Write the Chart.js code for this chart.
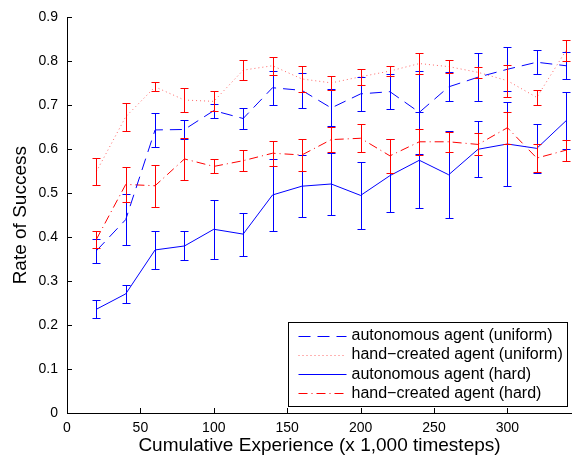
<!DOCTYPE html>
<html>
<head>
<meta charset="utf-8">
<script src="https://cdn.jsdelivr.net/npm/chart.js@4/dist/chart.umd.min.js"></script>
<style>
  html, body { margin: 0; padding: 0; background: #fff; }
  #wrap { width: 572px; height: 459px; }
</style>
</head>
<body>
<div id="wrap"><canvas id="successChart" width="572" height="459"></canvas></div>
<script>
// experience steps (x 1,000)
let steps = [20, 40, 60, 80, 100, 120, 140, 160, 180, 200, 220, 240, 260, 280, 300, 320, 340];

let autoUniform    = [0.369, 0.440, 0.644, 0.645, 0.688, 0.670, 0.740, 0.734, 0.694, 0.726, 0.731, 0.684, 0.742, 0.764, 0.782, 0.798, 0.790];
let autoUniformErr = [0.027, 0.058, 0.038, 0.022, 0.016, 0.024, 0.039, 0.040, 0.042, 0.039, 0.040, 0.095, 0.033, 0.054, 0.050, 0.027, 0.031];

let handUniform    = [0.549, 0.674, 0.742, 0.712, 0.709, 0.780, 0.790, 0.760, 0.751, 0.765, 0.778, 0.795, 0.788, 0.775, 0.756, 0.718, 0.825];
let handUniformErr = [0.031, 0.032, 0.010, 0.028, 0.023, 0.022, 0.020, 0.029, 0.016, 0.018, 0.012, 0.024, 0.015, 0.013, 0.036, 0.017, 0.024];

let autoHard    = [0.236, 0.271, 0.371, 0.380, 0.418, 0.407, 0.496, 0.516, 0.521, 0.495, 0.540, 0.575, 0.542, 0.600, 0.612, 0.602, 0.665];
let autoHardErr = [0.020, 0.020, 0.043, 0.033, 0.067, 0.049, 0.082, 0.070, 0.070, 0.076, 0.083, 0.109, 0.099, 0.064, 0.095, 0.055, 0.065];

let handHard    = [0.395, 0.520, 0.517, 0.578, 0.561, 0.574, 0.591, 0.587, 0.622, 0.625, 0.585, 0.617, 0.617, 0.611, 0.649, 0.580, 0.598];
let handHardErr = [0.020, 0.039, 0.048, 0.047, 0.016, 0.024, 0.028, 0.036, 0.029, 0.032, 0.038, 0.030, 0.023, 0.025, 0.036, 0.032, 0.024];

let seriesNames = [
    "autonomous agent (uniform)",
    "hand\u2212created agent (uniform)",
    "autonomous agent (hard)",
    "hand\u2212created agent (hard)"
];

let xTicks = [0, 50, 100, 150, 200, 250, 300];
let yTicks = [0, 0.1, 0.2, 0.3, 0.4, 0.5, 0.6, 0.7, 0.8, 0.9];

const FONT = "'Liberation Sans', Arial, sans-serif";

let errorSets = [autoUniformErr, handUniformErr, autoHardErr, handHardErr];
let barColors = ["#0000ff", "#ff0000", "#0000ff", "#ff0000"];

function toPoints(values){
    return values.map((v, i) => ({x: steps[i], y: v}));
}

// error bars drawn through the chart's own scales
const errorBars = {
    id: "errorBars",
    afterDatasetsDraw(chart){
        const ctx = chart.ctx;
        const xs = chart.scales.x, ys = chart.scales.y;
        chart.data.datasets.forEach((ds, k) => {
            const errs = errorSets[k];
            ctx.save();
            ctx.strokeStyle = barColors[k];
            ctx.lineWidth = 1;
            ctx.setLineDash([]);
            ds.data.forEach((p, i) => {
                const e = errs[i];
                const px = Math.round(xs.getPixelForValue(p.x)) + 0.5;
                const top = Math.round(ys.getPixelForValue(p.y + e)) + 0.5;
                const bot = Math.round(ys.getPixelForValue(p.y - e)) + 0.5;
                ctx.beginPath();
                ctx.moveTo(px, top); ctx.lineTo(px, bot);
                ctx.moveTo(px - 4, top); ctx.lineTo(px + 4, top);
                ctx.moveTo(px - 4, bot); ctx.lineTo(px + 4, bot);
                ctx.stroke();
            });
            ctx.restore();
        });
    }
};

// matlab style inward ticks
const inwardTicks = {
    id: "inwardTicks",
    afterDraw(chart){
        const ctx = chart.ctx;
        const xs = chart.scales.x, ys = chart.scales.y;
        const area = chart.chartArea;
        ctx.save();
        ctx.strokeStyle = "#000";
        ctx.lineWidth = 1;
        ctx.beginPath();
        xs.ticks.forEach(t => {
            const px = Math.round(xs.getPixelForValue(t.value)) + 0.5;
            ctx.moveTo(px, area.bottom); ctx.lineTo(px, area.bottom - 5);
        });
        ys.ticks.forEach(t => {
            const py = Math.round(ys.getPixelForValue(t.value)) + 0.5;
            ctx.moveTo(area.left, py); ctx.lineTo(area.left + 5, py);
        });
        ctx.stroke();
        ctx.restore();
    }
};

// boxed legend in the lower right corner
const boxLegend = {
    id: "boxLegend",
    afterDraw(chart){
        const ctx = chart.ctx;
        const area = chart.chartArea;
        const w = 279, h = 84;
        const bx = Math.round(area.right - 5 - w) + 0.5;
        const by = Math.round(area.bottom - 7 - h) + 0.5;
        ctx.save();
        ctx.fillStyle = "#fff";
        ctx.fillRect(bx, by, w, h);
        ctx.strokeStyle = "#000";
        ctx.lineWidth = 1;
        ctx.strokeRect(bx, by, w, h);
        ctx.font = "16px " + FONT;
        ctx.textBaseline = "middle";
        ctx.fillStyle = "#000";
        chart.data.datasets.forEach((ds, i) => {
            const y = by + 13 + i * 19.3;
            ctx.save();
            ctx.strokeStyle = ds.borderColor;
            ctx.setLineDash(ds.borderDash || []);
            ctx.beginPath();
            ctx.moveTo(bx + 10, Math.round(y) + 0.5);
            ctx.lineTo(bx + 58, Math.round(y) + 0.5);
            ctx.stroke();
            ctx.restore();
            ctx.fillText(ds.label, bx + 63, y);
        });
        ctx.restore();
    }
};

function makeSet(label, values, color, dash){
    return {
        label: label,
        data: toPoints(values),
        borderColor: color,
        borderDash: dash,
        borderWidth: 1,
        pointRadius: 0,
        tension: 0,
        fill: false
    };
}

new Chart("successChart", {
    type: "line",
    data: {
        datasets: [
            makeSet(seriesNames[0], autoUniform, "#0000ff", [12, 7]),
            makeSet(seriesNames[1], handUniform, "rgba(255,0,0,0.6)", [1, 3]),
            makeSet(seriesNames[2], autoHard, "#0000ff", []),
            makeSet(seriesNames[3], handHard, "#ff0000", [9, 4, 1, 4])
        ]
    },
    options: {
        responsive: false,
        animation: false,
        layout: { padding: { top: 13, right: 0, left: 0, bottom: 0 } },
        plugins: {
            legend: { display: false },
            tooltip: { enabled: false }
        },
        scales: {
            x: {
                type: "linear",
                min: 0,
                max: 344,
                afterBuildTicks: s => { s.ticks = xTicks.map(v => ({value: v})); },
                afterFit: s => { s.height = 46; },
                grid: { drawOnChartArea: false, drawTicks: false },
                border: { display: true, color: "#000", width: 1 },
                ticks: {
                    color: "#000",
                    padding: 7,
                    maxRotation: 0,
                    font: { family: FONT, size: 14 }
                },
                title: {
                    display: true,
                    text: "Cumulative Experience (x 1,000 timesteps)",
                    color: "#000",
                    padding: { top: 0, bottom: 2 },
                    font: { family: FONT, size: 19 }
                }
            },
            y: {
                min: 0,
                max: 0.9,
                afterBuildTicks: s => { s.ticks = yTicks.map(v => ({value: v})); },
                afterFit: s => { s.width = 67; },
                grid: { drawOnChartArea: false, drawTicks: false },
                border: { display: true, color: "#000", width: 1 },
                ticks: {
                    color: "#000",
                    padding: 9,
                    font: { family: FONT, size: 14 },
                    callback: v => (v === 0 ? "0" : v.toFixed(1))
                },
                title: {
                    display: true,
                    text: "Rate of Success",
                    color: "#000",
                    padding: { top: 9, bottom: 0 },
                    font: { family: FONT, size: 19 }
                }
            }
        }
    },
    plugins: [errorBars, inwardTicks, boxLegend]
});
</script>
</body>
</html>
